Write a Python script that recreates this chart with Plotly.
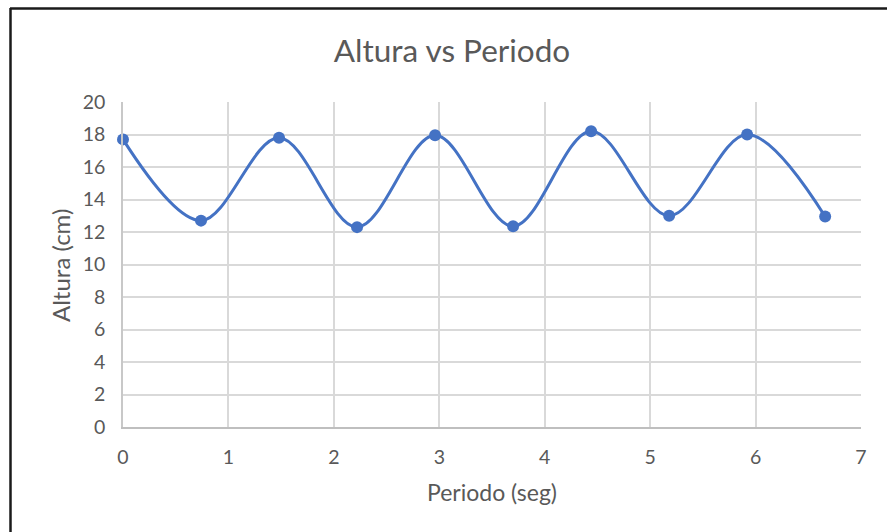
import plotly.graph_objects as go

# Measured oscillation: period (s) vs height (cm)
periodo = [0.0, 0.74, 1.48, 2.22, 2.96, 3.70, 4.44, 5.18, 5.92, 6.66]
altura = [17.7, 12.7, 17.8, 12.3, 17.95, 12.35, 18.2, 13.0, 18.0, 12.95]

x_ticks = [0, 1, 2, 3, 4, 5, 6, 7]
y_ticks = [0, 2, 4, 6, 8, 10, 12, 14, 16, 18, 20]

W, H = 887, 532
L, R, T, B = 123, 26, 102, 105
PW, PH = W - L - R, H - T - B

TEXT = "#595959"
GRID = "#d9d9d9"
BLUE = "#4472C4"
FONT = "Lato, Calibri, sans-serif"


def px_x(px):
    return (px - L) / PW


def px_y(py):
    return (H - B - py) / PH


fig = go.Figure()
fig.add_trace(go.Scatter(
    x=periodo, y=altura,
    mode="lines+markers",
    line=dict(color=BLUE, width=3, shape="spline", smoothing=1.0),
    marker=dict(color=BLUE, size=12),
    showlegend=False,
    cliponaxis=False,
))

fig.update_layout(
    width=W, height=H,
    margin=dict(l=L, r=R, t=T, b=B),
    paper_bgcolor="white", plot_bgcolor="white",
    font=dict(family=FONT, color=TEXT),
    title=dict(
        text="Altura vs Periodo",
        x=452 / W, xref="container", xanchor="center",
        y=1 - 51 / H, yref="container", yanchor="middle",
        font=dict(family=FONT, size=31.5, color=TEXT),
    ),
    xaxis=dict(
        range=[0, 7], tickvals=x_ticks, ticktext=[str(v) for v in x_ticks],
        showgrid=True, gridcolor=GRID, gridwidth=1.5,
        zeroline=False, showline=True, linecolor="#bfbfbf", linewidth=1.5,
        ticks="", ticklabelstandoff=12,
        tickfont=dict(family=FONT, size=19.5, color=TEXT),
    ),
    yaxis=dict(
        range=[0, 20], tickvals=y_ticks, ticktext=[str(v) for v in y_ticks],
        showgrid=True, gridcolor=GRID, gridwidth=1.5,
        zeroline=False, showline=True, linecolor="#c8c8c8", linewidth=1.5,
        ticks="", ticklabelstandoff=12,
        tickfont=dict(family=FONT, size=19.5, color=TEXT),
    ),
    annotations=[
        dict(text="Periodo (seg)", xref="paper", yref="paper",
             x=px_x(492), y=px_y(492), xanchor="center", yanchor="middle",
             showarrow=False, font=dict(family=FONT, size=23, color=TEXT)),
        dict(text="Altura (cm)", xref="paper", yref="paper",
             x=px_x(60), y=px_y(265), xanchor="center", yanchor="middle",
             textangle=-90, showarrow=False,
             font=dict(family=FONT, size=24, color=TEXT)),
    ],
    shapes=[
        dict(type="line", xref="paper", yref="paper",
             x0=px_x(10), x1=px_x(W + 5), y0=px_y(8.5), y1=px_y(8.5),
             line=dict(color="#1a1a1a", width=2.5)),
        dict(type="line", xref="paper", yref="paper",
             x0=px_x(10.5), x1=px_x(10.5), y0=px_y(8), y1=px_y(H + 5),
             line=dict(color="#1a1a1a", width=2.5)),
    ],
)

fig.write_html("out.html")
